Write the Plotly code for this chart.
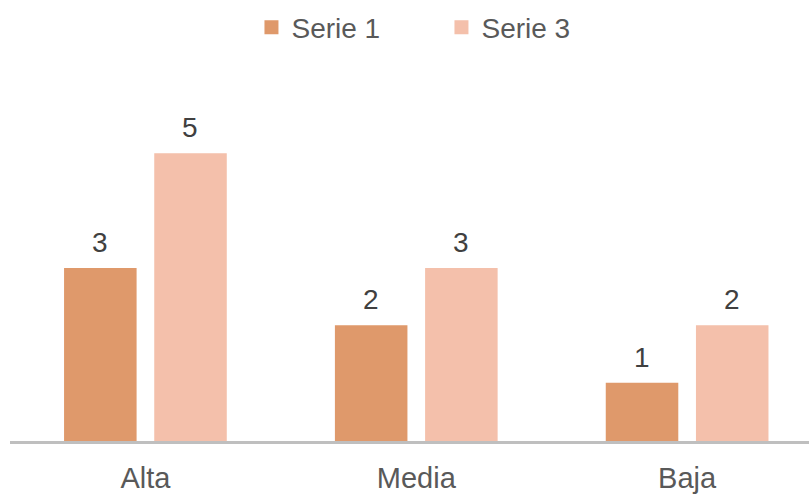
import plotly.graph_objects as go

categorias = ["Alta", "Media", "Baja"]
serie_1 = [3, 2, 1]
serie_3 = [5, 3, 2]

color_s1 = "#DF996B"
color_s3 = "#F4C0AB"
fuente = "Arial, Liberation Sans, sans-serif"

fig = go.Figure()
fig.add_trace(go.Bar(
    name="Serie 1", x=categorias, y=serie_1,
    marker=dict(color=color_s1, line=dict(color=color_s1, width=2)),
))
fig.add_trace(go.Bar(
    name="Serie 3", x=categorias, y=serie_3,
    marker=dict(color=color_s3, line=dict(color=color_s3, width=2)),
))

# value labels above each bar
for serie, desplaz in ((serie_1, -45), (serie_3, 45)):
    for cat, val in zip(categorias, serie):
        fig.add_annotation(
            x=cat, y=val, xref="x", yref="y",
            text=str(val), showarrow=False,
            xanchor="center", yanchor="bottom",
            xshift=desplaz, yshift=9,
            font=dict(family=fuente, size=28, color="#404040"),
        )

fig.update_layout(
    width=809, height=494,
    margin=dict(l=10, r=0, t=97, b=51),
    paper_bgcolor="white", plot_bgcolor="white",
    barmode="group", bargap=0.334, bargroupgap=0.218,
    font=dict(family=fuente, size=28, color="#595959"),
    showlegend=True,
    legend=dict(
        orientation="h", x=0.54, xanchor="center",
        yref="container", y=0.995, yanchor="top",
        entrywidth=145,
        font=dict(family=fuente, size=28, color="#595959"),
    ),
    xaxis=dict(
        type="category", range=[-0.5, 2.45],
        showline=True, linecolor="#BFBFBF", linewidth=2.5,
        showgrid=False, ticks="", zeroline=False,
        ticklabelstandoff=9,
        tickfont=dict(family=fuente, size=29, color="#595959"),
    ),
    yaxis=dict(
        range=[0, 6], visible=False, showgrid=False, zeroline=False,
    ),
)

fig.write_html("out.html")
